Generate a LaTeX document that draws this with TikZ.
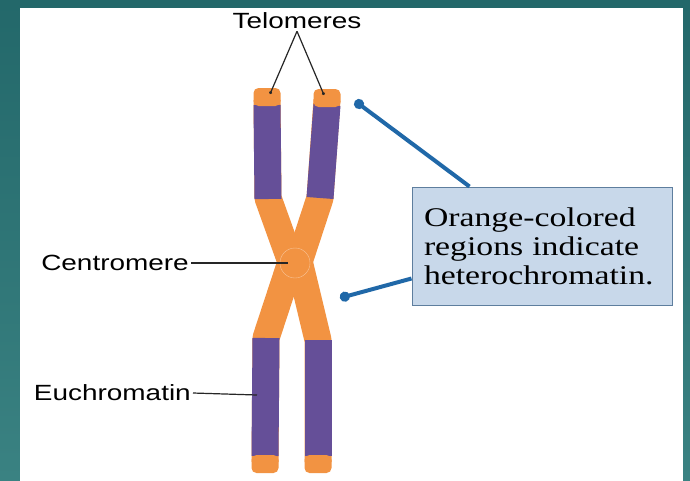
\documentclass[tikz,border=0pt]{standalone}
\usepackage{fontspec}
\newfontfamily\labelfont[FakeStretch=1.27]{Liberation Sans}
\newfontfamily\notefont[FakeStretch=1.25]{Liberation Serif}
\usetikzlibrary{arrows.meta,calc}

\definecolor{slideteal}{HTML}{23686A}
\definecolor{slidetealb}{HTML}{3A8282}
\definecolor{hetero}{HTML}{F29342}
\definecolor{eu}{HTML}{654F98}
\definecolor{notefill}{HTML}{C8D8EA}
\definecolor{noteline}{HTML}{5E7E9E}
\definecolor{pointerblue}{HTML}{2068A8}

\tikzset{
  arm/.style={line width=27pt, line join=round},
  telo/.style={fill=hetero, rounded corners=5pt, minimum width=27pt, minimum height=18pt, inner sep=0pt},
  lbl/.style={font=\labelfont\fontsize{22}{26}\selectfont, inner sep=2pt},
  leader/.style={line width=1.2pt, black!85},
  pointer/.style={pointerblue, line width=4pt, -{Circle[length=10pt]}},
}

\begin{document}
\begin{tikzpicture}[x=1pt,y=-1pt]
  \useasboundingbox (0,0) rectangle (690,480);
  \shade[top color=slideteal, bottom color=slidetealb] (0,0) rectangle (690,480);
  \fill[white] (20,8) rectangle (683,482);

  % chromatids
  \draw[arm,hetero] (267,100) -- (268,198) -- (291,262);
  \draw[arm,hetero] (327,100) -- (320,198) -- (299,262);
  \draw[arm,hetero] (290,265) -- (266,338) -- (265,462);
  \draw[arm,hetero] (300,265) -- (318,340) -- (318,462);
  \draw[arm,eu] (267,105) -- (268,199);
  \draw[arm,eu] (327,105) -- (320,198);
  \draw[arm,eu] (266,338) -- (265,456);
  \draw[arm,eu] (318,340) -- (318,456);
  \node[telo] (t1) at (267,97) {};
  \node[telo] (t2) at (327,98) {};
  \node[telo] (t3) at (265,464) {};
  \node[telo] (t4) at (318,464) {};
  \node[circle, fill=hetero, draw=hetero!55!white, minimum size=30pt, inner sep=0pt] (cen) at (295,263) {};

  % labels
  \node[lbl] (tel) at (297,21) {Telomeres};
  \node[lbl, anchor=east] (cenlbl) at (191,263) {Centromere};
  \node[lbl, anchor=east] (eulbl) at (193,393) {Euchromatin};
  \coordinate (tl) at (270,94);
  \coordinate (tr) at (324,95);
  \coordinate (eupt) at (257,395);
  \draw[leader, -{Circle[length=3pt]}] (tel.south) -- (tl);
  \draw[leader, -{Circle[length=3pt]}] (tel.south) -- (tr);
  \draw[leader, shorten >=7pt] (cenlbl.east) -- (cen.center);
  \draw[leader] (eulbl.east) -- (eupt);

  % note box
  \node[draw=noteline, fill=notefill, line width=1pt, text width=236pt, inner xsep=12pt,
        minimum height=118pt, align=left, font=\notefont\fontsize{27}{29}\selectfont] (note) at (542,246)
        {Orange-colored\\regions indicate\\heterochromatin.};
  \coordinate (hc1) at (355,101);
  \coordinate (hc2) at (340,298);
  \draw[pointer] ($(note.north west)+(58,0)$) -- (hc1);
  \draw[pointer] ($(note.south west)+(0,-27)$) -- (hc2);
\end{tikzpicture}
\end{document}
